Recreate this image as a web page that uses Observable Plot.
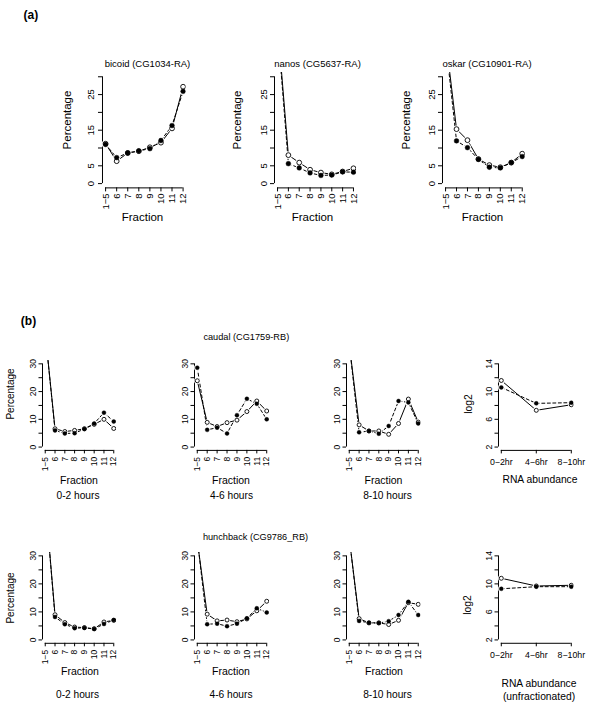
<!DOCTYPE html>
<html><head><meta charset="utf-8">
<script src="https://cdn.jsdelivr.net/npm/d3@7"></script>
<script src="https://cdn.jsdelivr.net/npm/@observablehq/plot@0.6"></script>
<style>
body{margin:0;background:#fff;}
#fig{position:relative;width:600px;height:716px;background:#fff;font-family:"Liberation Sans",Arial,Helvetica,sans-serif;color:#000;overflow:hidden;}
.lbl{position:absolute;white-space:nowrap;line-height:1;}
</style></head><body><div id="fig"></div>
<script>
// ---- data ----
const fractions = ["1\u22125","6","7","8","9","10","11","12"];
const times = ["0\u22122hr","4\u22126hr","8\u221210hr"];

const bicoidFilled = [11.0, 7.3, 8.6, 9.2, 9.8, 12.1, 16.3, 25.9];
const bicoidOpen   = [11.2, 6.3, 8.6, 9.1, 10.2, 11.5, 15.5, 27.2];
const nanosFilled  = [44, 5.6, 4.4, 3.0, 2.3, 2.4, 3.3, 3.2];
const nanosOpen    = [45, 8.0, 5.9, 3.9, 3.1, 2.6, 3.4, 4.3];
const oskarFilled  = [40, 12.0, 10.1, 6.8, 4.6, 4.4, 5.9, 7.6];
const oskarOpen    = [41, 15.3, 12.2, 6.9, 5.2, 4.6, 5.9, 8.4];

const caudal0Filled = [41, 6.0, 4.9, 5.0, 6.5, 8.5, 12.4, 9.2];
const caudal0Open   = [41, 6.6, 5.6, 6.0, 6.6, 8.2, 10.0, 6.7];
const caudal4Filled = [28.6, 6.2, 7.0, 4.9, 11.5, 17.4, 15.6, 10.0];
const caudal4Open   = [23.9, 8.9, 7.4, 8.8, 9.7, 12.8, 16.6, 13.0];
const caudal8Filled = [37, 5.3, 5.8, 4.8, 7.6, 16.6, 16.1, 8.5];
const caudal8Open   = [37, 8.0, 5.8, 5.8, 4.6, 8.5, 17.3, 9.0];
const caudalRnaFilled = [10.6, 8.3, 8.4];
const caudalRnaOpen   = [11.6, 7.3, 8.1];

const hunch0Filled = [50, 8.2, 5.6, 4.2, 4.3, 3.9, 5.7, 7.1];
const hunch0Open   = [50, 9.0, 6.2, 4.6, 4.4, 4.0, 6.4, 7.0];
const hunch4Filled = [36, 5.6, 5.8, 4.9, 5.8, 7.7, 11.3, 9.8];
const hunch4Open   = [35.4, 9.2, 6.8, 7.1, 6.5, 7.5, 10.4, 13.8];
const hunch8Filled = [36.4, 6.8, 6.1, 6.0, 6.7, 8.9, 13.6, 8.9];
const hunch8Open   = [36.4, 7.6, 6.1, 6.1, 5.5, 7.0, 13.3, 12.7];
const hunchRnaFilled = [9.3, 9.6, 9.6];
const hunchRnaOpen   = [10.8, 9.7, 9.8];

const pctTicksA = [0,5,10,15,20,25,30], pctLabelsA = [0,5,15,25];
const pctTicksB = [0,5,10,15,20,25,30], pctLabelsB = [0,10,20,30];
const logTicks = [2,4,6,8,10,12,14], logLabels = [2,6,10,14];

// ---- drawing ----
const FONT = '"Liberation Sans", Arial, Helvetica, sans-serif';
const fig = document.getElementById("fig");

function addText(txt, cx, cy, size, {rotate = 0, bold = false} = {}) {
  const d = document.createElement("div");
  d.className = "lbl";
  d.textContent = txt;
  d.style.left = cx + "px";
  d.style.top = cy + "px";
  d.style.fontSize = size + "px";
  if (bold) d.style.fontWeight = "bold";
  d.style.transform = `translate(-50%,-50%) rotate(${rotate}deg)`;
  fig.appendChild(d);
}

function panel(o) {
  const {left, top, W, H, cats, filled, open, yMin, yMax, yTicks, yLabeled,
         rotateX, tickSize, fs, r, xPad, yPad} = o;
  const n = cats.length;
  const xd = [-(n - 1) * 0.04, (n - 1) * 1.04];
  const yr = yMax - yMin;
  const yd = [yMin - 0.04 * yr, yMax + 0.04 * yr];
  const mL = 40, mT = 6, mR = 8, mB = 40;
  const idx = d3.range(n);
  const rows = (vals) => vals.map((v, i) => ({i, v}));
  const fData = rows(filled), oData = rows(open);
  const all = fData.concat(oData);
  const svg = Plot.plot({
    width: W + mL + mR, height: H + mT + mB,
    marginLeft: mL, marginRight: mR, marginTop: mT, marginBottom: mB,
    style: {background: "transparent", overflow: "visible", fontFamily: FONT, fontSize: fs + "px", maxWidth: "none", color: "black"},
    x: {type: "linear", domain: xd, label: null},
    y: {domain: yd, label: null},
    marks: [
      Plot.ruleX([xd[0]], {y1: yMin, y2: yMax, stroke: "black", strokeWidth: 1}),
      Plot.ruleY([yd[0]], {x1: 0, x2: n - 1, stroke: "black", strokeWidth: 1}),
      Plot.axisY({ticks: yTicks, tickSize, tickRotate: -90, tickPadding: yPad,
                  tickFormat: d => yLabeled.includes(d) ? String(d) : "", label: null}),
      Plot.axisX({ticks: idx, tickSize, tickRotate: rotateX ? -90 : 0, tickPadding: xPad,
                  tickFormat: i => cats[i], label: null}),
      Plot.line(oData, {x: "i", y: "v", stroke: "black", strokeWidth: 1, clip: true}),
      Plot.line(fData, {x: "i", y: "v", stroke: "black", strokeWidth: 1, strokeDasharray: "3,2.5", clip: true}),
      Plot.dot(all, {x: "i", y: "v", r: r + 1.2, fill: "white", stroke: null, clip: true}),
      Plot.dot(oData, {x: "i", y: "v", r, fill: "white", stroke: "black", strokeWidth: 0.9, clip: true}),
      Plot.dot(fData, {x: "i", y: "v", r, fill: "black", stroke: "black", strokeWidth: 0.4, clip: true})
    ]
  });
  svg.style.position = "absolute";
  svg.style.left = (left - mL) + "px";
  svg.style.top = (top - mT) + "px";
  fig.appendChild(svg);
}

// panel (a)
const A = {top: 71.9, H: 115.4, cats: fractions, yMin: 0, yMax: 30, yTicks: pctTicksA, yLabeled: pctLabelsA,
           rotateX: true, tickSize: 4, fs: 9.5, r: 2.4, xPad: 1.5, yPad: 4};
panel({...A, left: 102.4, W: 83.7, filled: bicoidFilled, open: bicoidOpen});
panel({...A, left: 273.7, W: 82, filled: nanosFilled, open: nanosOpen});
panel({...A, left: 441.9, W: 82.8, filled: oskarFilled, open: oskarOpen});

// panel (b)
const B = {cats: fractions, yMin: 0, yMax: 30, yTicks: pctTicksB, yLabeled: pctLabelsB,
           rotateX: true, tickSize: 3.5, fs: 8.5, r: 2, xPad: 3, yPad: 3};
const R = {cats: times, yMin: 2, yMax: 14, yTicks: logTicks, yLabeled: logLabels,
           rotateX: false, tickSize: 3.5, fs: 8.8, r: 2, xPad: 5, yPad: 3};
const row1 = {top: 359.7, H: 89.9}, row2 = {top: 551.6, H: 90.8};
const c1 = {left: 41.5, W: 74}, c2 = {left: 193.6, W: 75}, c3 = {left: 346.3, W: 74.5}, c4 = {left: 498.2, W: 75.6};

panel({...B, ...row1, ...c1, filled: caudal0Filled, open: caudal0Open});
panel({...B, ...row1, ...c2, filled: caudal4Filled, open: caudal4Open});
panel({...B, ...row1, ...c3, filled: caudal8Filled, open: caudal8Open});
panel({...R, ...row1, ...c4, filled: caudalRnaFilled, open: caudalRnaOpen});

panel({...B, ...row2, ...c1, filled: hunch0Filled, open: hunch0Open});
panel({...B, ...row2, ...c2, filled: hunch4Filled, open: hunch4Open});
panel({...B, ...row2, ...c3, filled: hunch8Filled, open: hunch8Open});
panel({...R, ...row2, ...c4, filled: hunchRnaFilled, open: hunchRnaOpen});

// text
addText("(a)", 30.8, 14.5, 12, {bold: true});
addText("(b)", 28.5, 321, 12, {bold: true});

addText("bicoid (CG1034-RA)", 147.5, 64, 9.5);
addText("nanos (CG5637-RA)", 317.5, 64, 9.5);
addText("oskar (CG10901-RA)", 487, 64, 9.5);
for (const x of [68.3, 238.3, 407.3]) addText("Percentage", x, 120, 11.5, {rotate: -90});
for (const x of [142.5, 312.5, 482.5]) addText("Fraction", x, 218, 11.5);

addText("caudal (CG1759-RB)", 246.3, 338, 9.2);
addText("hunchback (CG9786_RB)", 255.5, 538, 9.2);

addText("Percentage", 11, 394, 10, {rotate: -90});
addText("Percentage", 11, 598, 10, {rotate: -90});
addText("log2", 468.5, 404, 10.3, {rotate: -90});
addText("log2", 468, 605, 10.3, {rotate: -90});

for (const x of [79, 231, 383.5]) addText("Fraction", x, 480, 10.5);
for (const x of [80, 231, 384]) addText("Fraction", x, 671, 10.5);
addText("0-2 hours", 78, 496, 10.2);
addText("4-6 hours", 231.5, 496, 10.2);
addText("8-10 hours", 387.5, 496, 10.2);
addText("0-2 hours", 77.5, 695, 10.2);
addText("4-6 hours", 231, 695, 10.2);
addText("8-10 hours", 387.5, 695, 10.2);
addText("RNA abundance", 540, 480, 10.3);
addText("RNA abundance", 539, 684, 10.3);
addText("(unfractionated)", 539, 696.5, 10.3);
</script></body></html>
